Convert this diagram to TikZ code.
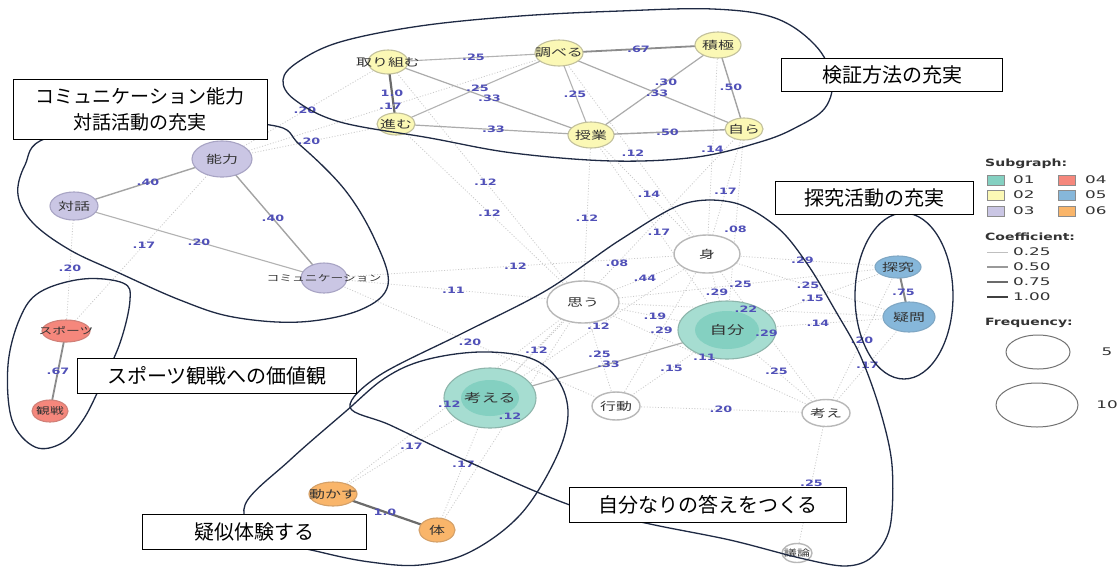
\documentclass[tikz,border=0pt]{standalone}
\usepackage{fontspec}
\usetikzlibrary{shapes.geometric}
\newfontfamily\jp[FakeStretch=1.45]{Noto Sans CJK JP}
\newfontfamily\jpbox{Noto Sans CJK JP}
\newfontfamily\lab[FakeStretch=1.45]{DejaVu Sans}
\newfontfamily\leg[FakeStretch=1.6]{DejaVu Sans}
\newfontfamily\legb[FakeStretch=1.4]{DejaVu Sans}
\pgfdeclarelayer{bg}
\pgfsetlayers{bg,main}
\definecolor{yelf}{HTML}{FBF8B5}
\definecolor{yelb}{HTML}{C2C09C}
\definecolor{lavf}{HTML}{CAC6E4}
\definecolor{lavb}{HTML}{A8A4C4}
\definecolor{redf}{HTML}{F5877C}
\definecolor{redb}{HTML}{D08078}
\definecolor{bluf}{HTML}{86B7DA}
\definecolor{blub}{HTML}{7FA7C4}
\definecolor{oraf}{HTML}{F9B56A}
\definecolor{orab}{HTML}{D4A068}
\definecolor{tealout}{HTML}{A6DDD1}
\definecolor{tealin}{HTML}{84D0C1}
\definecolor{tealb}{HTML}{8DB5AB}
\definecolor{wb}{HTML}{B8B8B8}
\definecolor{elabc}{HTML}{5050B8}
\definecolor{navy}{HTML}{1F2A44}
\definecolor{dotc}{HTML}{CACACA}
\newcommand\cz[1]{\makebox[0pt][c]{#1}}
\tikzset{
  nd/.style={ellipse, draw=wb, line width=1.1pt, inner sep=0pt, text=black!80,
    font=\jp\fontsize{11}{12}\selectfont},
  wn/.style={nd, fill=white, line width=1.4pt},
  yn/.style={nd, fill=yelf, draw=yelb},
  ln/.style={nd, fill=lavf, draw=lavb},
  rn/.style={nd, fill=redf, draw=redb},
  bn/.style={nd, fill=bluf, draw=blub},
  on/.style={nd, fill=oraf, draw=orab},
  tn/.style={nd, fill=tealout, draw=tealb},
  elab/.style={inner sep=0pt, text=elabc, font=\lab\bfseries\fontsize{8.8}{10}\selectfont},
  dotedge/.style={draw=dotc, line width=0.8pt, dash pattern=on 1pt off 1.8pt},
  ea/.style={draw=black!30, line width=1.1pt},
  eb/.style={draw=black!33, line width=1.2pt},
  ec/.style={draw=black!36, line width=1.4pt},
  ed/.style={draw=black!45, line width=1.8pt},
  ee/.style={draw=black!48, line width=2pt},
  ef/.style={draw=black!58, line width=2.2pt},
  grp/.style={draw=navy, line width=1.3pt},
  lbox/.style={draw=black, line width=0.8pt, fill=white, inner sep=0pt,
    font=\jpbox\fontsize{20}{25}\selectfont, align=center},
  legt/.style={anchor=west, inner sep=0pt, text=black!80, font=\leg\fontsize{10.5}{12}\selectfont},
  legh/.style={anchor=west, inner sep=0pt, text=black!80, font=\legb\bfseries\fontsize{10}{12}\selectfont},
  sq/.style={draw=black!45, line width=0.6pt, minimum width=17pt, minimum height=10pt, inner sep=0pt},
}
\newcommand\edgp[5]{%
  \begin{pgfonlayer}{bg}\draw[#1] (#2.center) -- (#3.center);\end{pgfonlayer}
  \path (#2.center) -- (#3.center) node[elab,pos=#5]{#4};}
\newcommand\edg[4]{\edgp{#1}{#2}{#3}{#4}{0.5}}
\begin{document}
\begin{tikzpicture}[x=1pt,y=-1pt]
\begin{pgfonlayer}{bg}
\fill[white] (0,0) rectangle (1120,566);
\end{pgfonlayer}
\useasboundingbox (0,0) rectangle (1120,566);

% ---- nodes: subgraph 02 (yellow)
\node[yn, minimum width=40, minimum height=24] (torikumu) at (388,62) {\cz{取り組む}};
\node[yn, minimum width=48, minimum height=26] (shiraberu) at (559,53) {\cz{調べる}};
\node[yn, minimum width=46, minimum height=26] (sekkyoku) at (718,45) {\cz{積極}};
\node[yn, minimum width=38, minimum height=22] (susumu) at (396,124) {\cz{進む}};
\node[yn, minimum width=46, minimum height=26] (jugyo) at (591,135) {\cz{授業}};
\node[yn, minimum width=38, minimum height=22] (mizukara) at (744,129) {\cz{自ら}};
% ---- subgraph 03 (lavender)
\node[ln, minimum width=60, minimum height=36] (noryoku) at (222,159) {\cz{能力}};
\node[ln, minimum width=48, minimum height=28] (taiwa) at (74,206) {\cz{対話}};
\node[ln, minimum width=46, minimum height=30, font=\jp\fontsize{8.8}{10}\selectfont] (comm) at (324,278) {\cz{コミュニケーション}};
% ---- subgraph 04 (red)
\node[rn, minimum width=48, minimum height=22, font=\jp\fontsize{9.5}{10}\selectfont] (sports) at (66,331) {\cz{スポーツ}};
\node[rn, minimum width=36, minimum height=22, font=\jp\fontsize{9.5}{10}\selectfont] (kansen) at (50,411) {\cz{観戦}};
% ---- subgraph 05 (blue)
\node[bn, minimum width=46, minimum height=22] (tankyu) at (898,267) {\cz{探究}};
\node[bn, minimum width=52, minimum height=30] (gimon) at (909,317) {\cz{疑問}};
% ---- subgraph 06 (orange)
\node[on, minimum width=48, minimum height=24] (ugokasu) at (333,494) {\cz{動かす}};
\node[on, minimum width=36, minimum height=24] (karada) at (437,530) {\cz{体}};
% ---- white nodes
\node[wn, minimum width=66, minimum height=38] (mi) at (707,254) {\cz{身}};
\node[wn, minimum width=72, minimum height=42] (omou) at (583,302) {\cz{思う}};
\node[wn, minimum width=48, minimum height=28] (kodo) at (616,406) {\cz{行動}};
\node[wn, minimum width=48, minimum height=27] (kangae) at (826,413) {\cz{考え}};
\node[wn, minimum width=30, minimum height=19, font=\jp\fontsize{9}{10}\selectfont] (giron) at (797,553) {\cz{議論}};
% ---- subgraph 01 (teal)
\node[tn, minimum width=98, minimum height=58] (jibun) at (727,330) {};
\fill[tealin] (jibun.center) ellipse [x radius=32pt, y radius=19pt];
\node[inner sep=0pt, text=black!80, font=\jp\fontsize{12}{13}\selectfont] (jibunt) at (jibun.center) {自分};
\node[tn, minimum width=92, minimum height=60] (kangaeru) at (490,398) {};
\fill[tealin] (kangaeru.center) ellipse [x radius=29pt, y radius=18pt];
\node[inner sep=0pt, text=black!80, font=\jp\fontsize{12}{13}\selectfont] (kangaerut) at (kangaeru.center) {考える};

% ---- solid edges (same subgraph)
\edg{ea}{torikumu}{shiraberu}{.25}
\edg{ed}{shiraberu}{sekkyoku}{.67}
\edg{ef}{torikumu}{susumu}{1.0}
\edg{eb}{torikumu}{jugyo}{.33}
\edg{ea}{susumu}{shiraberu}{.25}
\edg{ea}{shiraberu}{jugyo}{.25}
\edgp{eb}{shiraberu}{mizukara}{.33}{0.53}
\edgp{eb}{sekkyoku}{jugyo}{.30}{0.41}
\edg{ec}{sekkyoku}{mizukara}{.50}
\edg{eb}{susumu}{jugyo}{.33}
\edg{ec}{jugyo}{mizukara}{.50}
\edg{ec}{taiwa}{noryoku}{.40}
\edg{ec}{noryoku}{comm}{.40}
\edg{ea}{taiwa}{comm}{.20}
\edg{ed}{sports}{kansen}{.67}
\edg{ee}{tankyu}{gimon}{.75}
\edg{ef}{ugokasu}{karada}{1.0}
\edg{eb}{kangaeru}{jibun}{.33}

% ---- dotted edges
\edg{dotedge}{noryoku}{torikumu}{.20}
\edg{dotedge}{noryoku}{susumu}{.20}
\edg{dotedge}{noryoku}{shiraberu}{.17}
\edg{dotedge}{taiwa}{sports}{.20}
\edg{dotedge}{sports}{noryoku}{.17}
\edg{dotedge}{torikumu}{omou}{.12}
\edg{dotedge}{susumu}{omou}{.12}
\edg{dotedge}{jugyo}{omou}{.12}
\edg{dotedge}{jugyo}{mi}{.14}
\edg{dotedge}{jugyo}{jibun}{.17}
\edg{dotedge}{mizukara}{mi}{.17}
\edg{dotedge}{mizukara}{jibun}{.08}
\edg{dotedge}{shiraberu}{mi}{.12}
\edg{dotedge}{sekkyoku}{mi}{.14}
\edg{dotedge}{comm}{mi}{.12}
\edg{dotedge}{comm}{omou}{.11}
\edg{dotedge}{comm}{kodo}{.20}
\edg{dotedge}{kangaeru}{mizukara}{.08}
\edg{dotedge}{omou}{mi}{.44}
\edg{dotedge}{mi}{tankyu}{.29}
\edg{dotedge}{mi}{jibun}{.29}
\edg{dotedge}{omou}{tankyu}{.25}
\edg{dotedge}{mi}{gimon}{.25}
\edg{dotedge}{jibun}{tankyu}{.15}
\edg{dotedge}{omou}{gimon}{.22}
\edg{dotedge}{jibun}{gimon}{.14}
\edg{dotedge}{mi}{kangae}{.29}
\edg{dotedge}{omou}{jibun}{.19}
\edg{dotedge}{mi}{kodo}{.29}
\edg{dotedge}{mi}{kangaeru}{.12}
\edg{dotedge}{omou}{kangaeru}{.12}
\edg{dotedge}{omou}{kodo}{.25}
\edg{dotedge}{jibun}{kodo}{.15}
\edg{dotedge}{omou}{kangae}{.11}
\edg{dotedge}{jibun}{kangae}{.25}
\edg{dotedge}{kodo}{kangae}{.20}
\edg{dotedge}{kangae}{giron}{.25}
\edg{dotedge}{kangae}{tankyu}{.20}
\edg{dotedge}{kangae}{gimon}{.17}
\edg{dotedge}{kangaeru}{ugokasu}{.17}
\edg{dotedge}{kangaeru}{karada}{.17}
\edg{dotedge}{omou}{karada}{.12}
\edgp{dotedge}{omou}{ugokasu}{.12}{0.535}

% ---- group outlines
\draw[grp] plot[smooth cycle, tension=0.6] coordinates {(283,80) (298,62) (340,42) (420,26) (520,16) (620,11) (713,9) (775,18) (815,45) (832,78) (825,108) (795,128) (760,142) (697,157) (613,161) (513,153) (430,138) (340,122) (295,100)};
\draw[grp] plot[smooth cycle, tension=0.6] coordinates {(47,138) (25,165) (18,195) (33,223) (70,250) (117,272) (180,300) (233,317) (300,322) (360,310) (388,285) (375,240) (345,190) (300,145) (270,125) (150,122)};
\draw[grp] plot[smooth cycle, tension=0.6] coordinates {(83,279) (123,283) (130,300) (120,343) (100,387) (83,420) (62,443) (35,447) (12,420) (8,365) (20,318) (40,292)};
\draw[grp] (904,296) ellipse [x radius=49pt, y radius=83pt];
\draw[grp] plot[smooth cycle, tension=0.55] coordinates {(350,407) (380,375) (463,333) (547,290) (620,240) (683,204) (735,203) (778,228) (808,265) (835,310) (860,355) (880,410) (892,465) (890,527) (872,557) (845,566) (800,558) (730,540) (650,524) (570,505) (460,458) (390,425)};
\draw[grp] plot[smooth cycle, tension=0.6] coordinates {(245,505) (290,460) (345,412) (385,378) (425,360) (480,352) (530,358) (558,380) (568,415) (555,460) (520,515) (470,552) (420,565) (370,562) (320,552) (262,536)};

% ---- annotation boxes
\node[lbox, minimum width=254, minimum height=60, font=\jpbox\fontsize{19}{26}\selectfont] (b1) at (140,109) {コミュニケーション能力\\対話活動の充実};
\node[lbox, minimum width=221, minimum height=33] (b2) at (892,75) {検証方法の充実};
\node[lbox, minimum width=198, minimum height=33] (b3) at (874,198) {探究活動の充実};
\node[lbox, minimum width=279, minimum height=35] (b4) at (217,376) {スポーツ観戦への価値観};
\node[lbox, minimum width=224, minimum height=35] (b5) at (254,532) {疑似体験する};
\node[lbox, minimum width=277, minimum height=35] (b6) at (708,505) {自分なりの答えをつくる};

% ---- legend
\node[legh] (lgs) at (985,164) {Subgraph:};
\node[sq, fill=tealin] (sq1) at (996,180) {};
\node[legt] (t1) at (1013,180) {01};
\node[sq, fill=redf] (sq4) at (1067,180) {};
\node[legt] (t4) at (1085,180) {04};
\node[sq, fill=yelf] (sq2) at (996,195) {};
\node[legt] (t2) at (1013,195) {02};
\node[sq, fill=bluf] (sq5) at (1067,195) {};
\node[legt] (t5) at (1085,195) {05};
\node[sq, fill=lavf] (sq3) at (996,211) {};
\node[legt] (t3) at (1013,211) {03};
\node[sq, fill=oraf] (sq6) at (1067,211) {};
\node[legt] (t6) at (1085,211) {06};
\node[legh] (lgc) at (985,237) {Coefficient:};
\draw[draw=black!25, line width=0.8pt] (987,252) -- (1008,252);
\node[legt] (c1) at (1013,252) {0.25};
\draw[draw=black!40, line width=1.1pt] (987,267) -- (1008,267);
\node[legt] (c2) at (1013,267) {0.50};
\draw[draw=black!58, line width=1.4pt] (987,282) -- (1008,282);
\node[legt] (c3) at (1013,282) {0.75};
\draw[draw=black!75, line width=1.8pt] (987,297) -- (1008,297);
\node[legt] (c4) at (1013,297) {1.00};
\node[legh] (lgf) at (985,323) {Frequency:};
\draw[draw=black!55, line width=1pt] (1038,352) ellipse [x radius=32pt, y radius=17pt];
\node[legt, anchor=center] (f5) at (1107,352) {5};
\draw[draw=black!55, line width=1pt] (1037,405) ellipse [x radius=41pt, y radius=22pt];
\node[legt, anchor=center] (f10) at (1107,405) {10};
\end{tikzpicture}
\end{document}
